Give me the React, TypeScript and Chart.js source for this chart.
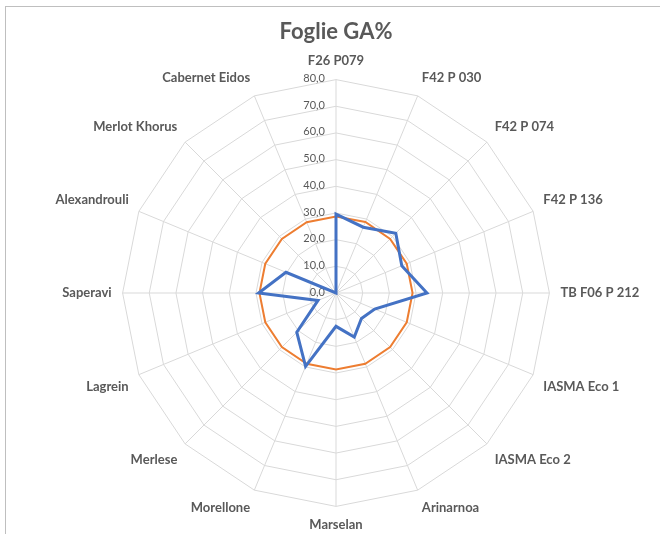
import React, { useEffect, useRef } from "react";
import { Chart, registerables } from "chart.js";

Chart.register(...registerables);

const titleText = "Foglie GA%";

const categories = [
  "F26 P079",
  "F42 P 030",
  "F42 P 074",
  "F42 P 136",
  "TB F06 P 212",
  "IASMA Eco 1",
  "IASMA Eco 2",
  "Arinarnoa",
  "Marselan",
  "Morellone",
  "Merlese",
  "Lagrein",
  "Saperavi",
  "Alexandrouli",
  "Merlot Khorus",
  "Cabernet Eidos",
];

const blueValues = [29.6, 26.7, 31.7, 26.7, 34.1, 15.7, 13.5, 17.9, 12.5, 29.8, 20.8, 7.3, 29.0, 20.3, 0, 0];
const orangeValues = [28.7, 28.8, 28.7, 28.7, 28.7, 28.7, 28.7, 28.7, 28.7, 28.7, 28.7, 28.7, 28.7, 28.7, 28.7, 28.7];
const tickValues = [0, 10, 20, 30, 40, 50, 60, 70, 80];

const FONT = "Lato, 'Open Sans', sans-serif";
const TEXT = "#595959";

const tickLabelPlugin = {
  id: "tickLabels",
  beforeDatasetsDraw(chart: any) {
    const s = chart.scales.r;
    const ctx = chart.ctx;
    ctx.save();
    ctx.font = `11px ${FONT}`;
    ctx.fillStyle = TEXT;
    ctx.textAlign = "right";
    ctx.textBaseline = "middle";
    tickValues.forEach((v) => {
      const d = s.getDistanceFromCenterForValue(v);
      ctx.fillText(v.toFixed(1).replace(".", ","), s.xCenter - 11, s.yCenter - d - 1);
    });
    ctx.restore();
  },
};

const centeredTitlePlugin = {
  id: "centeredTitle",
  afterDraw(chart: any) {
    const s = chart.scales.r;
    const ctx = chart.ctx;
    ctx.save();
    ctx.font = `bold 22px ${FONT}`;
    ctx.fillStyle = TEXT;
    ctx.textAlign = "center";
    ctx.textBaseline = "middle";
    ctx.fillText(titleText, s.xCenter, 32);
    ctx.restore();
  },
};

export default function App() {
  const ref = useRef<HTMLCanvasElement | null>(null);
  useEffect(() => {
    if (!ref.current) return;
    const chart = new Chart(ref.current, {
      type: "radar",
      data: {
        labels: categories,
        datasets: [
          {
            label: "Serie 1",
            data: blueValues,
            borderColor: "#4472C4",
            backgroundColor: "transparent",
            borderWidth: 3,
            pointRadius: 0,
            fill: false,
            order: 0,
          },
          {
            label: "Serie 2",
            data: orangeValues,
            borderColor: "#ED7D31",
            backgroundColor: "transparent",
            borderWidth: 2,
            pointRadius: 0,
            fill: false,
            order: 1,
          },
        ],
      },
      options: {
        responsive: false,
        animation: false,
        layout: { padding: { left: 27, right: 0, top: 53, bottom: 0 } },
        elements: { line: { tension: 0 } },
        plugins: {
          legend: { display: false },
          tooltip: { enabled: false },
          title: { display: false },
        },
        scales: {
          r: {
            min: 0,
            max: 80,
            ticks: { stepSize: 10, display: false },
            grid: { color: "#d9d9d9", lineWidth: 1 },
            angleLines: { color: "#d9d9d9", lineWidth: 1 },
            pointLabels: {
              color: TEXT,
              font: { family: FONT, size: 13, weight: "bold" },
              padding: 11,
            },
          },
        },
      },
      plugins: [tickLabelPlugin, centeredTitlePlugin],
    });
    return () => chart.destroy();
  }, []);
  return (
    <div style={{ position: "absolute", left: 0, top: 0, width: 660, height: 534, background: "#fff" }}>
      <canvas ref={ref} width={660} height={534} style={{ position: "absolute", left: 0, top: 0 }} />
      <div
        style={{
          position: "absolute",
          left: 5,
          top: 6,
          width: 655,
          height: 528,
          boxSizing: "border-box",
          borderTop: "1px solid #bfbfbf",
          borderLeft: "1px solid #bfbfbf",
          pointerEvents: "none",
        }}
      />
    </div>
  );
}
